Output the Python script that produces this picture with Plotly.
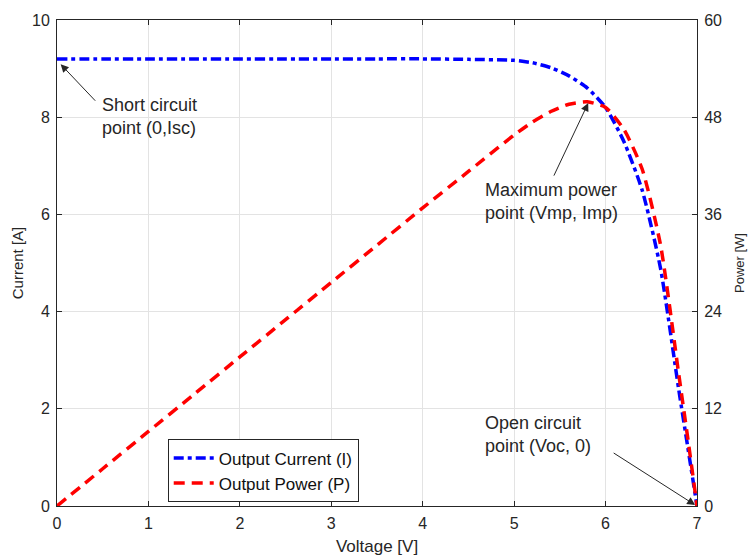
import plotly.graph_objects as go

# Data
voltage = [0, 0.5, 1.0, 1.5, 2.0, 2.5, 3.0, 3.5, 4.0, 4.5, 5.0, 5.2, 5.4, 5.6, 5.8,
           6.0, 6.2, 6.4, 6.6, 6.8, 6.9, 7.0]
current = [9.2, 9.2, 9.2, 9.2, 9.2, 9.2, 9.2, 9.2, 9.2, 9.19, 9.17, 9.12, 9.02, 8.85, 8.6,
           8.2, 7.5, 6.5, 4.9, 2.4, 1.2, 0.0]
power = [0.0, 4.6, 9.2, 13.8, 18.4, 23.0, 27.6, 32.2, 36.8, 41.3, 45.8, 47.4, 48.7, 49.6, 49.9,
         49.2, 46.5, 41.6, 32.3, 16.3, 8.3, 0.0]

x_ticks = [0, 1, 2, 3, 4, 5, 6, 7]
y_ticks = [0, 2, 4, 6, 8, 10]
y2_ticks = [0, 12, 24, 36, 48, 60]

FONT = "Liberation Sans, Arial, sans-serif"
TXT = "#262626"

fig = go.Figure()
fig.add_trace(go.Scatter(
    x=voltage, y=current, mode="lines", name="Output Current (I)",
    line=dict(color="#0000ff", width=3.5, dash="10px,4px,4px,4px", shape="spline", smoothing=0.6),
))
fig.add_trace(go.Scatter(
    x=voltage, y=power, mode="lines", name="Output Power (P)", yaxis="y2",
    line=dict(color="#ff0000", width=3.5, dash="11px,7px", shape="spline", smoothing=0.6),
))

axis_common = dict(
    showline=True, linecolor="#262626", linewidth=1,
    ticks="inside", ticklen=5, tickcolor="#262626",
    tickfont=dict(family=FONT, size=16, color=TXT),
    zeroline=False, automargin=False,
)

fig.update_layout(
    width=750, height=556,
    margin=dict(l=57, r=53, t=20, b=50),
    paper_bgcolor="white", plot_bgcolor="white",
    font=dict(family=FONT, color=TXT),
    xaxis=dict(range=[0, 7], tickvals=x_ticks, showgrid=True, gridcolor="#e3e3e3",
               mirror="ticks", ticklabelstandoff=3,
               title=dict(text="Voltage [V]", font=dict(size=17, color=TXT), standoff=8),
               **axis_common),
    yaxis=dict(range=[0, 10], tickvals=y_ticks, showgrid=True, gridcolor="#e3e3e3",
               ticklabelstandoff=3,
               title=dict(text="Current [A]", font=dict(size=15, color=TXT), standoff=4),
               **axis_common),
    yaxis2=dict(range=[0, 60], tickvals=y2_ticks, overlaying="y", side="right", showgrid=False,
                ticklabelstandoff=3,
                title=dict(text="Power [W]", font=dict(size=13, color=TXT), standoff=13),
                **axis_common),
    legend=dict(x=0.173, y=0.137, xanchor="left", yanchor="top",
                bgcolor="white", bordercolor="#262626", borderwidth=1,
                font=dict(family=FONT, size=17, color="#111"),
                tracegroupgap=0, itemwidth=40),
    showlegend=True,
)

ann_font = dict(family=FONT, size=18, color=TXT)
# Text labels
fig.add_annotation(x=0.47, y=8.5, xref="x", yref="y", xanchor="left", yanchor="top",
                   text="Short circuit<br>point (0,Isc)", showarrow=False, align="left", font=ann_font)
fig.add_annotation(x=4.66, y=6.75, xref="x", yref="y", xanchor="left", yanchor="top",
                   text="Maximum power<br>point (Vmp, Imp)", showarrow=False, align="left", font=ann_font)
fig.add_annotation(x=4.66, y=1.95, xref="x", yref="y", xanchor="left", yanchor="top",
                   text="Open circuit<br>point (Voc, 0)", showarrow=False, align="left", font=ann_font)
# Arrows
arrow_style = dict(showarrow=True, arrowhead=2, arrowsize=1.6, arrowwidth=1, arrowcolor="#262626",
                   text="", xref="x", yref="y")
fig.add_annotation(x=0.04, y=9.09, ax=36, ay=38, **arrow_style)
fig.add_annotation(x=5.81, y=8.29, ax=-35, ay=74, **arrow_style)
fig.add_annotation(x=6.98, y=0.02, ax=-83, ay=-53, **arrow_style)

fig.write_html("out.html")
